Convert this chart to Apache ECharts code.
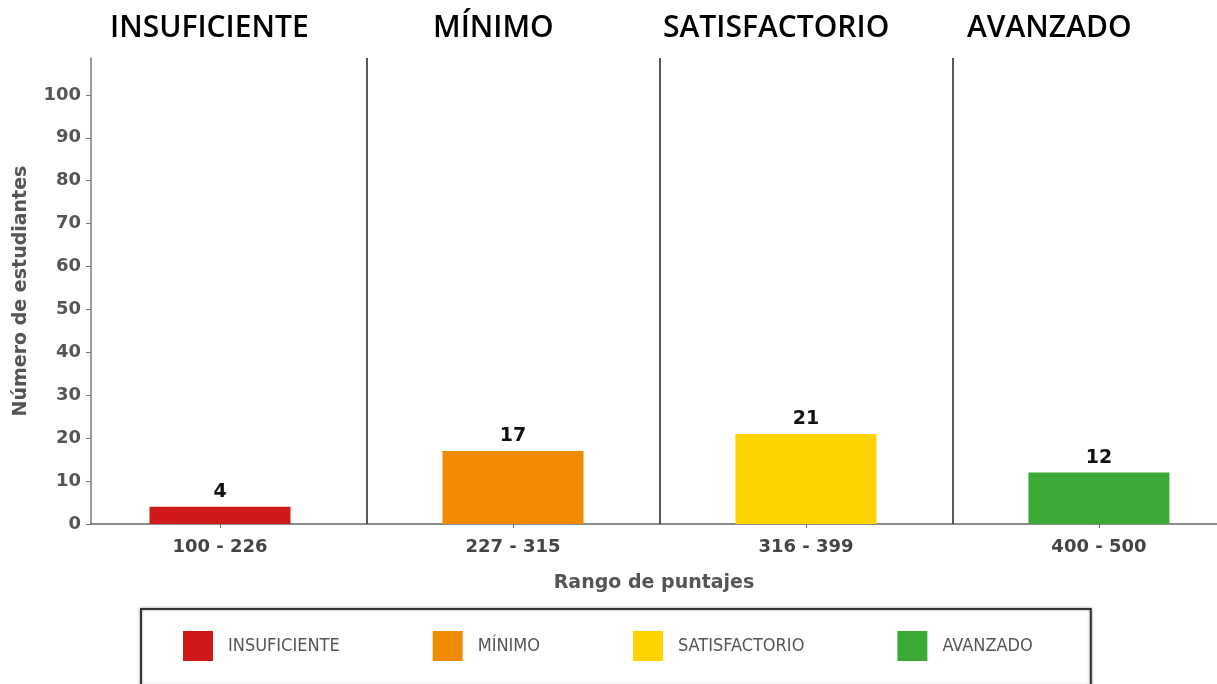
<!DOCTYPE html>
<html>
<head>
<meta charset="utf-8">
<script src="https://cdn.jsdelivr.net/npm/echarts@6/dist/echarts.min.js"></script>
<style>
  html, body { margin: 0; padding: 0; background: #fff; }
  #chart { width: 1217px; height: 684px; }
</style>
</head>
<body>
<div id="chart"></div>
<script>
// niveles de desempeño
const levels = ["INSUFICIENTE", "MÍNIMO", "SATISFACTORIO", "AVANZADO"];
const ranges = ["100 - 226", "227 - 315", "316 - 399", "400 - 500"];
const counts = [4, 17, 21, 12];
const colors = ["#d0191b", "#f08a00", "#fed300", "#3ba935"];
const yTicks = [0, 10, 20, 30, 40, 50, 60, 70, 80, 90, 100];
const xTicks = [0, 1, 2, 3];
const dividers = [0.5, 1.5, 2.5];
// x de cada titulo de nivel (arriba)
const titleX = [110, 433, 663, 967];

const chart = echarts.init(document.getElementById("chart"));

const font = "'DejaVu Sans', sans-serif";
const titleFont = "'Open Sans', 'Noto Sans', sans-serif";

const series = levels.map((name, i) => ({
  name: name,
  type: "bar",
  barWidth: 141,
  barGap: "-100%",
  itemStyle: { color: colors[i] },
  label: {
    show: true, position: "top", distance: 5,
    color: "#111", fontFamily: font, fontWeight: "bold", fontSize: 19
  },
  data: [[xTicks[i], counts[i]]]
}));

// lineas separadoras entre niveles
series[0].markLine = {
  silent: true,
  symbol: "none",
  label: { show: false },
  lineStyle: { color: "#222", width: 1.5, type: "solid" },
  data: dividers.map(v => ({ xAxis: v }))
};

const option = {
  animation: false,
  grid: { left: 91, right: 0, top: 58, bottom: 160 },
  xAxis: {
    type: "value",
    min: -0.4403,
    max: 3.403,
    name: "Rango de puntajes",
    nameLocation: "middle",
    nameGap: 50,
    nameTextStyle: { color: "#555", fontFamily: font, fontWeight: "bold", fontSize: 19 },
    axisLine: { show: true, onZero: false, lineStyle: { color: "#666", width: 1.5 } },
    axisTick: { show: true, length: 4, customValues: xTicks, lineStyle: { color: "#666" } },
    axisLabel: {
      customValues: xTicks,
      formatter: v => ranges[Math.round(v)],
      color: "#444", fontFamily: font, fontWeight: "bold", fontSize: 18, margin: 14
    },
    splitLine: { show: false }
  },
  yAxis: {
    type: "value",
    min: 0,
    max: 108.6,
    name: "Número de estudiantes",
    nameLocation: "middle",
    nameGap: 60,
    nameTextStyle: { color: "#555", fontFamily: font, fontWeight: "bold", fontSize: 19 },
    axisLine: { show: true, onZero: false, lineStyle: { color: "#777", width: 1.5 } },
    axisTick: { show: true, length: 5, customValues: yTicks, lineStyle: { color: "#777" } },
    axisLabel: {
      customValues: yTicks,
      color: "#555", fontFamily: font, fontWeight: "bold", fontSize: 18, margin: 10
    },
    splitLine: { show: false }
  },
  legend: {
    data: levels,
    left: 141,
    top: 609,
    padding: [22, 58, 25, 42],
    itemWidth: 30,
    itemHeight: 30,
    itemGap: 93,
    icon: "rect",
    borderColor: "#333",
    borderWidth: 2,
    shadowColor: "rgba(0,0,0,0.35)",
    shadowBlur: 3,
    backgroundColor: "#fff",
    textStyle: {
      color: "#555", fontFamily: "'Liberation Sans Narrow', 'DejaVu Sans Condensed', sans-serif",
      fontSize: 18, padding: [0, 0, 0, 10]
    }
  },
  graphic: levels.map((name, i) => ({
    type: "text",
    left: titleX[i],
    top: 13,
    style: { text: name, fill: "#000", font: "600 30px " + titleFont }
  })),
  series: series
};

chart.setOption(option);
window.addEventListener("resize", () => chart.resize());
</script>
</body>
</html>
